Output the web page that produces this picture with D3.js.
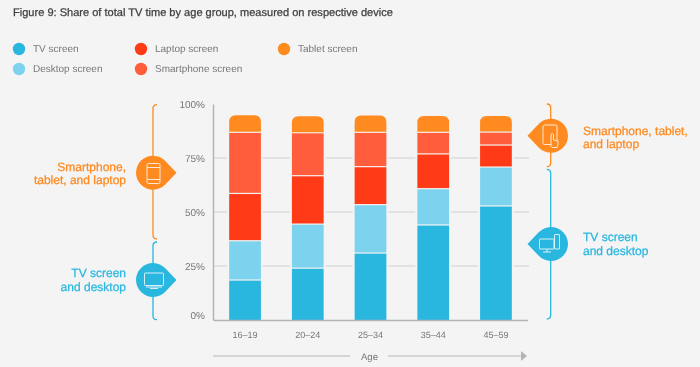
<!DOCTYPE html>
<html><head><meta charset="utf-8">
<script src="https://cdn.jsdelivr.net/npm/d3@7"></script>
<style>
html,body{margin:0;padding:0;background:#f4f4f4}
svg{display:block;filter:blur(0.35px)}
text{font-family:"Liberation Sans",Arial,sans-serif;text-rendering:geometricPrecision}
</style></head><body>
<script>
const ageGroups = ["16–19","20–24","25–34","35–44","45–59"];
const tvScreen = [18.5,24,31,44,52.8];
const desktopScreen = [18.2,20.4,22.4,16.8,18];
const laptopScreen = [21.9,22.4,17.6,16.1,10.2];
const smartphoneScreen = [28.3,19.9,15.9,10,6];
const tabletScreen = [7.9,7.6,7.8,7.5,7.4];
const seriesNames = ["TV screen","Desktop screen","Laptop screen","Smartphone screen","Tablet screen"];
const seriesColors = ["#29b7e0","#7dd2ee","#ff3b17","#ff5d3b","#ff8a20"];
const seriesValues = [tvScreen,desktopScreen,laptopScreen,smartphoneScreen,tabletScreen];
const yTicks = [0,25,50,75,100];
const titleText = "Figure 9: Share of total TV time by age group, measured on respective device";

const ORANGE="#ff8a20", BLUE="#29b7e0", BG="#f4f4f4";
const svg=d3.select("body").append("svg").attr("width",700).attr("height",367);
svg.append("rect").attr("width",700).attr("height",367).attr("fill",BG);

svg.append("text").attr("x",13).attr("y",15.5).attr("font-size",11.06).attr("fill","#404040")
  .attr("stroke","#404040").attr("stroke-width",0.25).text(titleText);

// legend
const legendPos=[[19,49],[19,69],[141,49],[141,69],[284,49]];
seriesNames.forEach((n,i)=>{
  const [lx,ly]=legendPos[i];
  svg.append("circle").attr("cx",lx).attr("cy",ly).attr("r",6.2).attr("fill",seriesColors[i]);
  svg.append("text").attr("x",lx+14).attr("y",ly+3.4).attr("font-size",10).attr("fill","#77777b").text(n);
});

const x=d3.scaleBand().domain(ageGroups).range([213.5,527.5]).paddingInner(0.494).paddingOuter(0.25);
const y=d3.scaleLinear().domain([0,100]).range([320,104]);

// grid
svg.append("g").selectAll("line").data([25,50,75]).join("line")
  .attr("x1",213).attr("x2",529).attr("y1",d=>y(d)).attr("y2",d=>y(d))
  .attr("stroke","#dcdcdc").attr("stroke-width",1.4);

// bars
const stack=ageGroups.map((g,i)=>{
  let c=0; return seriesValues.map((s,k)=>{const o={g,k,y0:c,y1:c+s[i]};c+=s[i];return o;});
});
const barG=svg.append("g");
barG.selectAll("rect.h").data(stack).join("rect").attr("class","h")
  .attr("x",d=>x(d[0].g)-2).attr("width",x.bandwidth()+4)
  .attr("y",d=>y(d[4].y1)).attr("height",d=>y(0)-y(d[4].y1)).attr("fill",BG);
stack.flat().forEach(d=>{
  const bx=x(d.g), w=x.bandwidth(), t=y(d.y1), b=y(d.y0);
  if(d.k===4){
    const r=6.5;
    barG.append("path").attr("fill",seriesColors[4])
      .attr("d",`M${bx},${b-0.6}V${t+r}Q${bx},${t} ${bx+r},${t}H${bx+w-r}Q${bx+w},${t} ${bx+w},${t+r}V${b-0.6}Z`);
  } else {
    barG.append("rect").attr("x",bx).attr("width",w)
      .attr("y",t+0.6).attr("height",Math.max(0,b-t-(d.k===0?0.6:1.2))).attr("fill",seriesColors[d.k]);
  }
});

// axes
const axY=svg.append("g").attr("transform","translate(213,0)")
  .call(d3.axisLeft(y).tickValues(yTicks).tickFormat(d=>d+"%").tickSize(0).tickPadding(8));
axY.select(".domain").attr("stroke","#b4b4b4").attr("stroke-width",1.5);
axY.selectAll("text").attr("font-size",10).attr("fill","#77777b")
  .attr("dy",d=>d===0?"-0.2em":"0.32em")
  .style("font-family",'"Liberation Sans",Arial,sans-serif');
const axX=svg.append("g").attr("transform","translate(0,320)")
  .call(d3.axisBottom(x).tickSize(0).tickPadding(12));
axX.select(".domain").attr("stroke","#b4b4b4").attr("stroke-width",1.5);
axX.selectAll("text").attr("font-size",9).attr("fill","#77777b").style("font-family",'"Liberation Sans",Arial,sans-serif');

// Age arrow
const ay=356;
svg.append("line").attr("x1",213).attr("x2",350).attr("y1",ay).attr("y2",ay).attr("stroke","#b4b4b4").attr("stroke-width",1.2);
svg.append("line").attr("x1",388).attr("x2",522).attr("y1",ay).attr("y2",ay).attr("stroke","#b4b4b4").attr("stroke-width",1.2);
svg.append("path").attr("d",`M521,${ay-5}L527,${ay}L521,${ay+5}Z`).attr("fill","#b4b4b4");
svg.append("text").attr("x",369.5).attr("y",ay+3.5).attr("text-anchor","middle").attr("font-size",9.6).attr("fill","#77777b").text("Age");

function bracket(bx,y0,y1,c,dir){
  const e=4*dir;
  svg.append("path").attr("fill","none").attr("stroke",c).attr("stroke-width",1.3)
   .attr("d",`M${bx+e},${y0}Q${bx},${y0} ${bx},${y0+4}V${y1-4}Q${bx},${y1} ${bx+e},${y1}`);
}
bracket(153,104.7,239,ORANGE,1);
bracket(153,242,319.7,BLUE,1);
bracket(550.7,104,166.7,ORANGE,-1);
bracket(550.7,169.3,319,BLUE,-1);

function pin(cx,cy,c,dir){
  const r=17, d=23.5, a=Math.acos(r/d);
  const tip=cx+d*dir, px=cx+r*Math.cos(a)*dir, py=r*Math.sin(a);
  svg.append("path").attr("fill",c)
    .attr("d",`M${px},${cy-py}A${r},${r} 0 1 ${dir>0?0:1} ${px},${cy+py}L${tip},${cy}Z`);
}
pin(153,172.7,ORANGE,1);
pin(153,280,BLUE,1);
pin(551,135.7,ORANGE,-1);
pin(551,244,BLUE,-1);

const icon=svg.append("g").attr("fill","none").attr("stroke","#fff").attr("stroke-width",0.9).attr("opacity",0.9);
icon.append("rect").attr("x",147).attr("y",163.5).attr("width",13).attr("height",20).attr("rx",1.5);
icon.append("path").attr("d","M147,167.5H160M147,179.5H160");
icon.append("rect").attr("x",144.5).attr("y",273).attr("width",19).attr("height",12.5).attr("rx",0.8);
icon.append("path").attr("d","M146,287H162M150,288.5H158");
icon.append("rect").attr("x",543).attr("y",125).attr("width",14).attr("height",19.5).attr("rx",1.5);
icon.append("path").attr("fill","#ff8a20").attr("d","M551,146.5V134.5Q552.5,132.5 553.5,134.5V140L558,141Q558.5,145 557,147.5H552Z");
icon.append("rect").attr("x",539.5).attr("y",239).attr("width",14.5).attr("height",10).attr("rx",0.6);
icon.append("path").attr("d","M543,252H551M547,249V252");
icon.append("rect").attr("x",554.5).attr("y",234.5).attr("width",5).attr("height",14.5).attr("rx",0.5);

function label(lines,lx,ly,c,anchor){
  lines.forEach((t,i)=>svg.append("text").attr("x",lx).attr("y",ly+i*13.5).attr("text-anchor",anchor)
    .attr("font-size",12).attr("fill",c).attr("stroke",c).attr("stroke-width",0.25).text(t));
}
label(["Smartphone,","tablet, and laptop"],126,170.5,ORANGE,"end");
label(["TV screen","and desktop"],126,277,BLUE,"end");
label(["Smartphone, tablet,","and laptop"],583,134.7,ORANGE,"start");
label(["TV screen","and desktop"],583,241,BLUE,"start");
</script>
</body></html>
